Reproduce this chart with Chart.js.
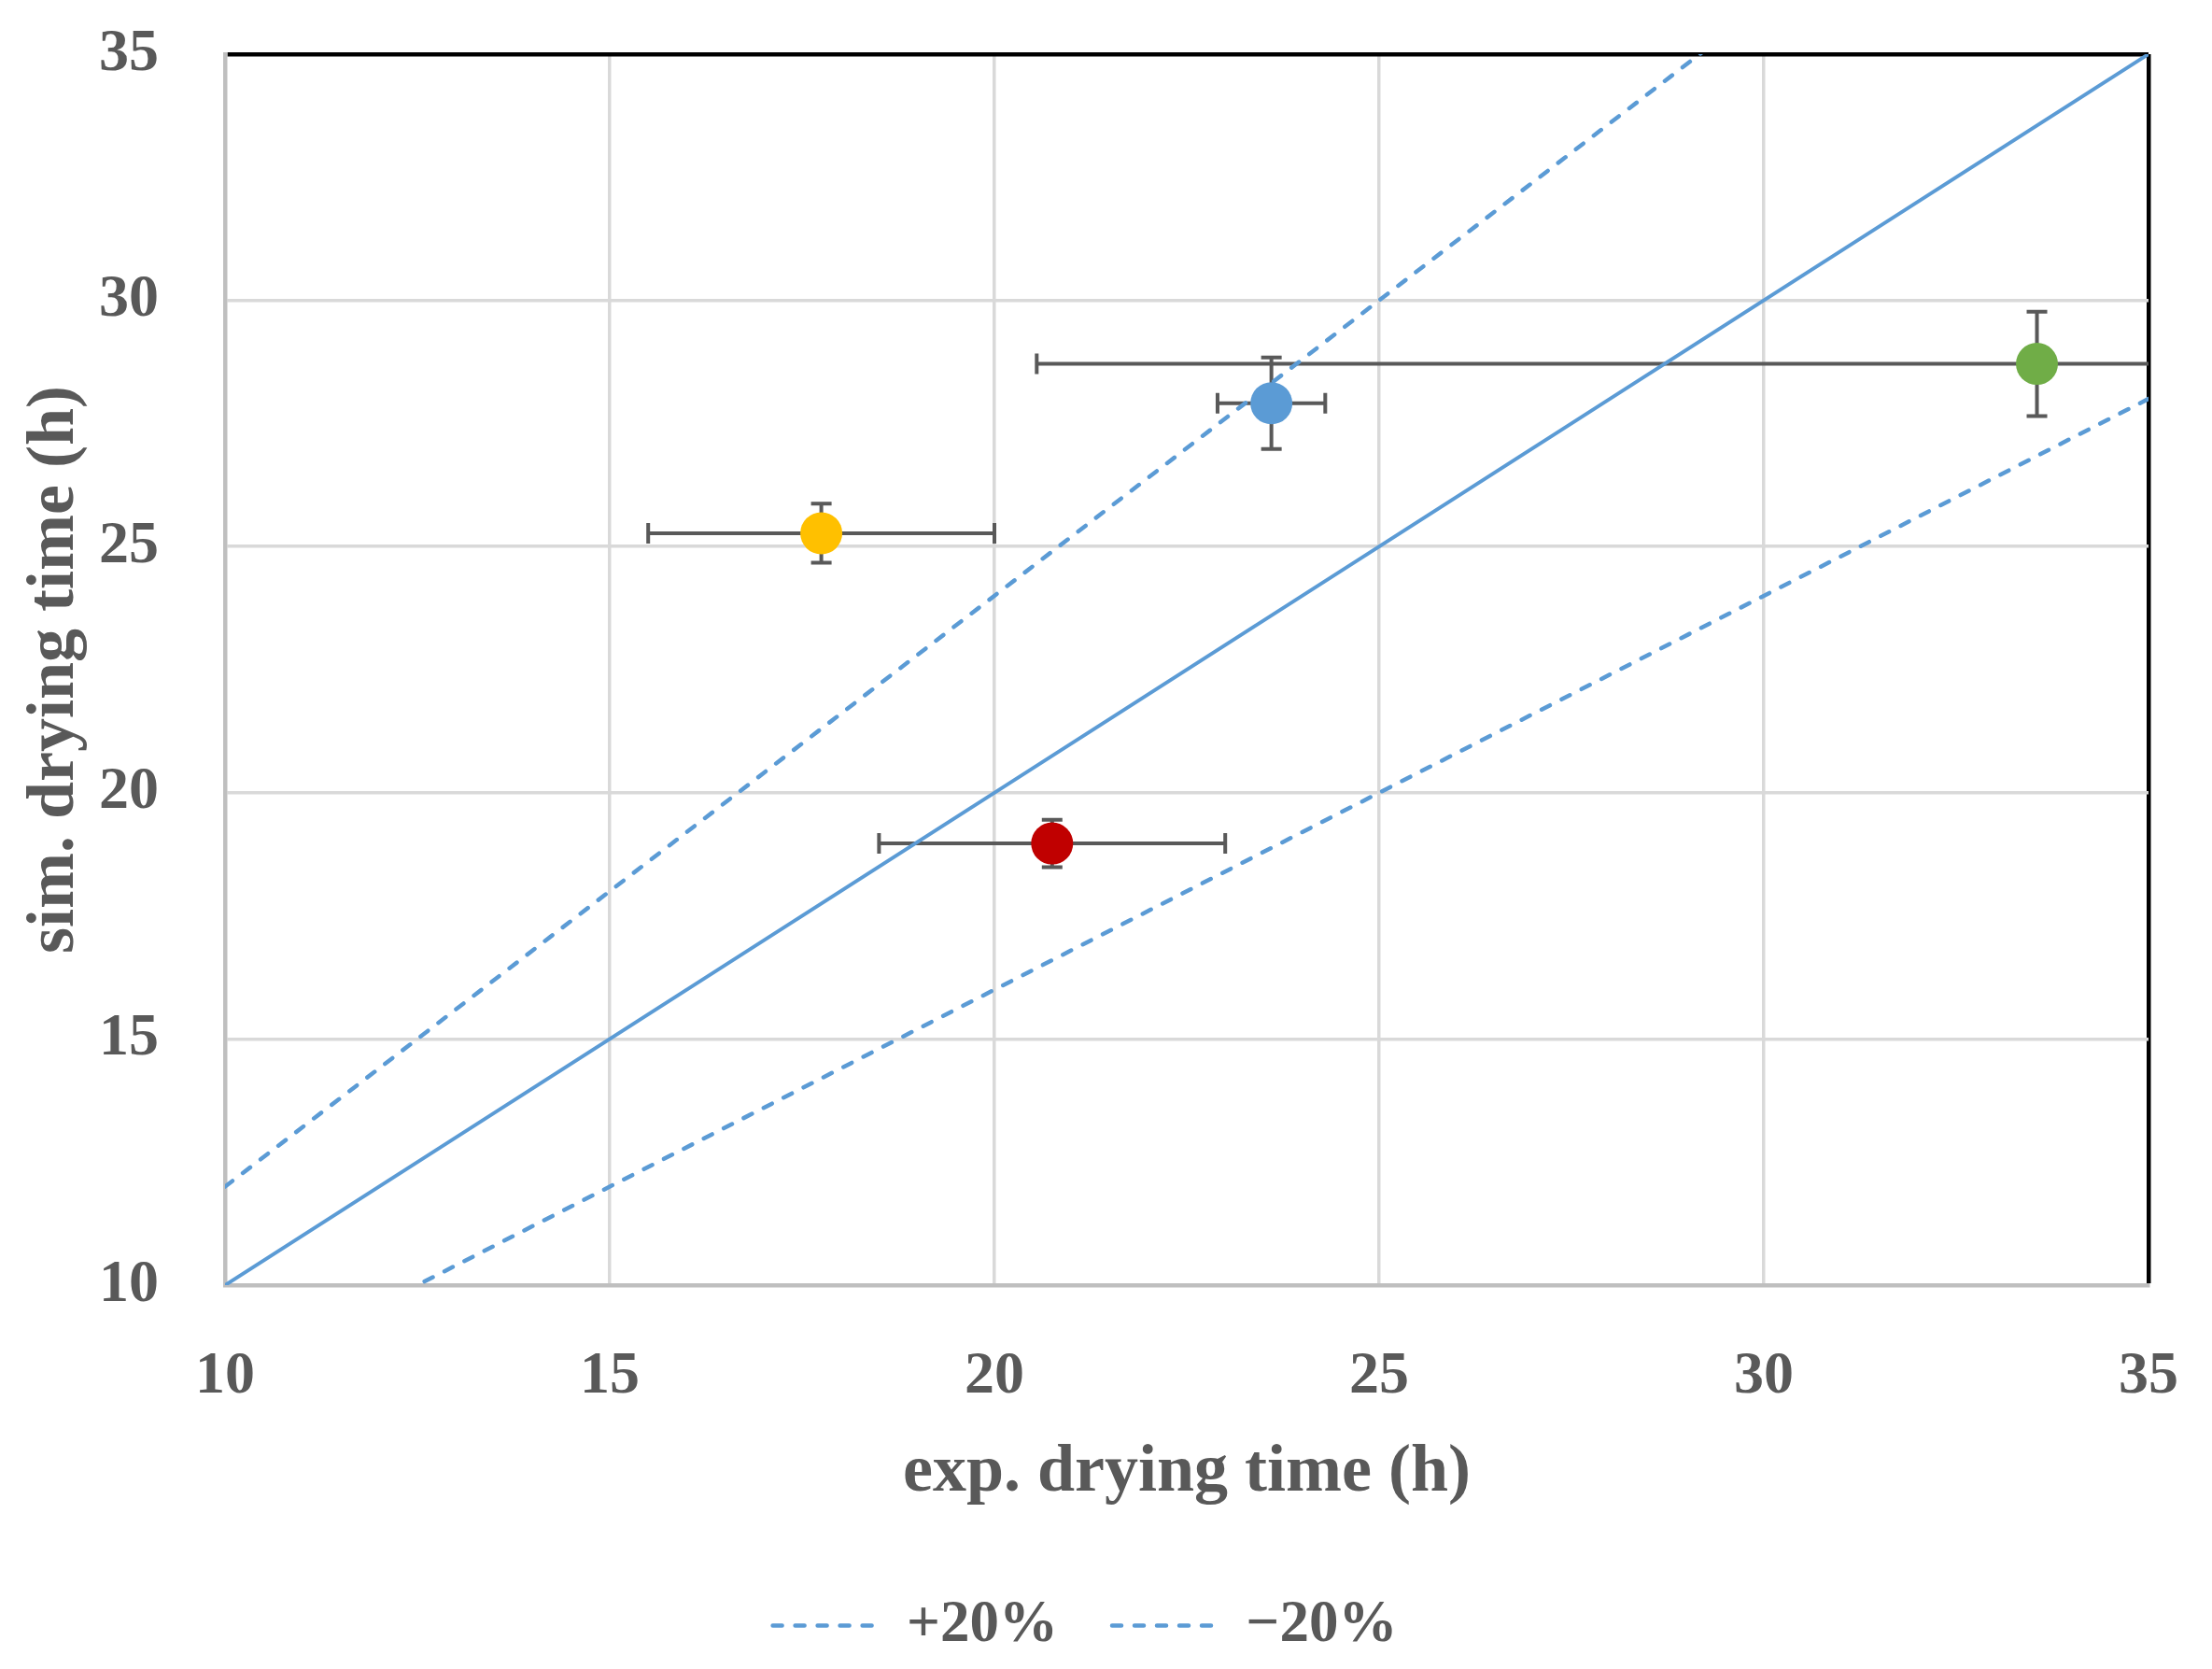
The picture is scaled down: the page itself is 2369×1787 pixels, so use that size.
<!DOCTYPE html>
<html>
<head>
<meta charset="utf-8">
<script src="https://cdn.jsdelivr.net/npm/chart.js@4.4.0/dist/chart.umd.min.js"></script>
<style>
  html, body { margin: 0; padding: 0; background: #fff; }
  #wrap { width: 2369px; height: 1787px; }
</style>
</head>
<body>
<div id="wrap"><canvas id="dryingChart"></canvas></div>
<script>
// measured points: exp. vs sim. drying time (h)
const expTime = [17.75, 20.75, 23.6, 33.55];
const simTime = [25.27, 18.97, 27.91, 28.71];
const expErr = [2.25, 2.25, 0.7, 13.0];
const simErr = [0.6, 0.48, 0.93, 1.06];
const pointColors = ["#FFC000", "#C00000", "#5B9BD5", "#70AD47"];

// reference lines y = k * x
const refX = [10, 35];
const refLabels = ["1:1", "+20%", "\u221220%"];
const refFactors = [1, 1.2, 0.8];

const axisMin = 10;
const axisMax = 35;
const axisStep = 5;

const textColor = "#595959";
const fontFamily = "'Liberation Serif', 'DejaVu Serif', serif";
const lineBlue = "#5B9BD5";
const dashPattern = [10, 14];

// error bars drawn through the scales, behind the markers
const errorBars = {
  id: "errorBars",
  beforeDatasetsDraw(chart) {
    const { ctx, chartArea, scales } = chart;
    const x = scales.x, y = scales.y;
    const cap = 11;
    ctx.save();
    ctx.beginPath();
    ctx.rect(chartArea.left, chartArea.top, chartArea.width, chartArea.height);
    ctx.clip();
    ctx.strokeStyle = textColor;
    ctx.lineWidth = 4;
    expTime.forEach((ex, i) => {
      const px = x.getPixelForValue(ex);
      const py = y.getPixelForValue(simTime[i]);
      const x0 = x.getPixelForValue(ex - expErr[i]);
      const x1 = x.getPixelForValue(ex + expErr[i]);
      const y0 = y.getPixelForValue(simTime[i] - simErr[i]);
      const y1 = y.getPixelForValue(simTime[i] + simErr[i]);
      ctx.beginPath();
      ctx.moveTo(x0, py); ctx.lineTo(x1, py);
      ctx.moveTo(x0, py - cap); ctx.lineTo(x0, py + cap);
      ctx.moveTo(x1, py - cap); ctx.lineTo(x1, py + cap);
      ctx.moveTo(px, y0); ctx.lineTo(px, y1);
      ctx.moveTo(px - cap, y0); ctx.lineTo(px + cap, y0);
      ctx.moveTo(px - cap, y1); ctx.lineTo(px + cap, y1);
      ctx.stroke();
    });
    ctx.restore();
  }
};

const pointData = expTime.map((v, i) => ({ x: v, y: simTime[i] }));
const refSets = refFactors.map((k, i) => ({
  label: refLabels[i],
  data: refX.map(v => ({ x: v, y: v * k })),
  showLine: true,
  borderColor: lineBlue,
  backgroundColor: lineBlue,
  borderWidth: i === 0 ? 4 : 4.5,
  borderDash: i === 0 ? [] : dashPattern,
  borderCapStyle: i === 0 ? "butt" : "round",
  pointRadius: 0,
  pointHoverRadius: 0
}));

const gridColor = c => (c.tick && c.tick.value === axisMax ? "#000000" : "#d9d9d9");
const gridWidth = c => (c.tick && c.tick.value === axisMax ? 4.5 : 3.5);

new Chart(document.getElementById("dryingChart"), {
  type: "scatter",
  data: {
    datasets: [
      {
        label: "data",
        data: pointData,
        pointRadius: 22.5,
        pointHoverRadius: 22.5,
        pointBackgroundColor: pointColors,
        pointBorderWidth: 0,
        showLine: false
      },
      ...refSets
    ]
  },
  options: {
    responsive: true,
    maintainAspectRatio: false,
    animation: false,
    layout: { padding: { top: 58, right: 68, bottom: 5, left: 23 } },
    plugins: {
      tooltip: { enabled: false },
      legend: {
        position: "bottom",
        labels: {
          generateLabels: chart =>
            Chart.defaults.plugins.legend.labels.generateLabels(chart).map(item => ({
              ...item,
              lineDash: dashPattern,
              lineCap: "round",
              lineWidth: 4.5,
              strokeStyle: lineBlue
            })),
          filter: item => item.datasetIndex >= 2,
          usePointStyle: true,
          pointStyle: "line",
          pointStyleWidth: 112,
          padding: 58,
          color: textColor,
          font: { family: fontFamily, size: 63, weight: "bold" }
        }
      }
    },
    scales: {
      x: {
        type: "linear",
        min: axisMin,
        max: axisMax,
        afterFit: s => {
          s.height = 275;
          s.paddingLeft = 0;
          s.paddingRight = 0;
        },
        ticks: {
          stepSize: axisStep,
          padding: 60,
          color: textColor,
          font: { family: fontFamily, size: 64, weight: "bold" }
        },
        grid: { color: gridColor, lineWidth: gridWidth, drawTicks: false },
        border: { color: "#bfbfbf", width: 4.5 },
        title: {
          display: true,
          text: "exp. drying time (h)",
          color: textColor,
          padding: { top: 0, bottom: 30 },
          font: { family: fontFamily, size: 72, weight: "bold" }
        }
      },
      y: {
        type: "linear",
        min: axisMin,
        max: axisMax,
        afterFit: s => {
          s.width = 218;
          s.paddingTop = 0;
          s.paddingBottom = 0;
        },
        ticks: {
          stepSize: axisStep,
          padding: 71,
          color: textColor,
          font: { family: fontFamily, size: 64, weight: "bold" }
        },
        grid: { color: gridColor, lineWidth: gridWidth, drawTicks: false },
        border: { color: "#bfbfbf", width: 4.5 },
        title: {
          display: true,
          text: "sim. drying time (h)",
          color: textColor,
          padding: 0,
          font: { family: fontFamily, size: 72, weight: "bold", lineHeight: 1 }
        }
      }
    }
  },
  plugins: [errorBars]
});
</script>
</body>
</html>
